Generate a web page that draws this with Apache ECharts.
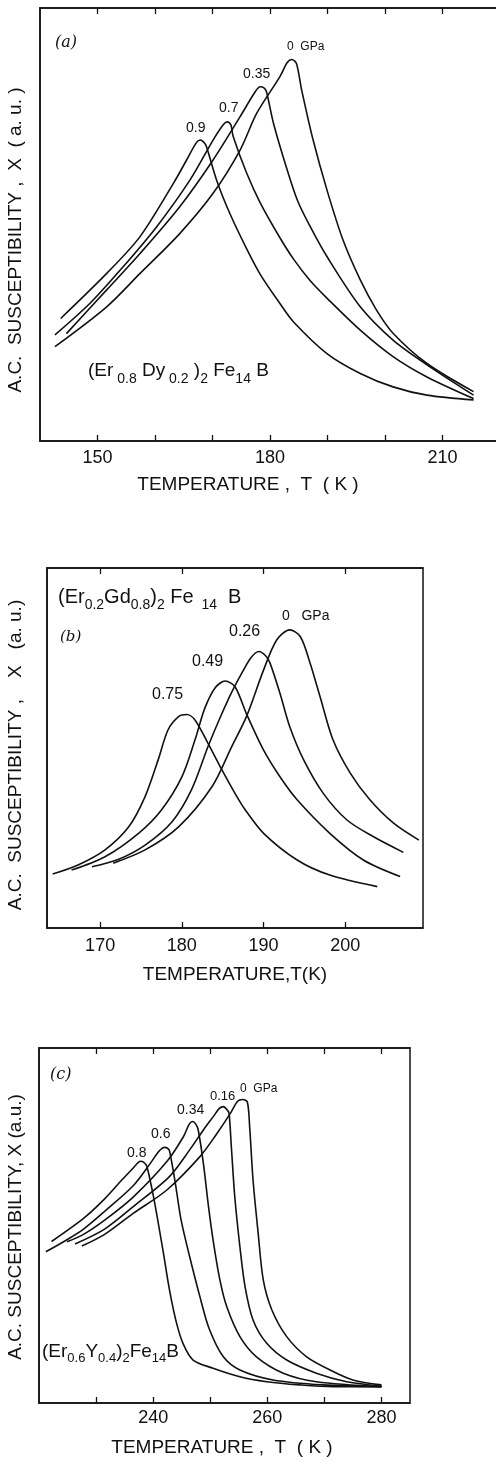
<!DOCTYPE html>
<html>
<head>
<meta charset="utf-8">
<script src="https://cdn.jsdelivr.net/npm/echarts@6.0.0/dist/echarts.min.js"></script>
<style>
    html, body { margin: 0; padding: 0; background: #fff; }
    #chart { width: 496px; height: 1461px; }
</style>
</head>
<body>
<div id="chart"></div>
<script>

// (a) (Er0.8Dy0.2)2Fe14B
var a0 = [[142.6,21.8],[151.6,31.0],[157.4,38.7],[164.3,47.9],[170.1,57.2],[174.8,67.2],[177.7,75.7],[181.7,84.1],[183.0,87.4],[183.8,88.1],[184.6,87.2],[185.5,81.1],[187.5,69.5],[189.9,58.0],[192.7,46.4],[195.7,37.2],[198.5,30.3],[201.4,24.9],[207.3,17.9],[215.4,11.4]];
var a035 = [[144.6,24.8],[151.6,34.9],[157.4,43.3],[164.3,54.1],[170.1,64.9],[174.8,74.9],[177.4,80.6],[178.3,81.8],[179.0,81.5],[179.4,80.6],[180.6,73.4],[182.9,63.0],[184.8,55.5],[187.0,49.5],[189.9,42.6],[195.7,31.0],[201.4,23.3],[207.3,17.6],[215.4,10.6]];
var a07 = [[142.6,24.5],[148.7,31.8],[154.5,40.3],[160.3,49.5],[166.1,60.3],[170.1,69.5],[171.9,73.1],[172.6,73.7],[173.2,73.0],[173.6,70.3],[175.9,62.0],[178.3,55.0],[181.7,47.0],[184.1,42.0],[187.0,37.0],[189.9,33.0],[195.7,25.6],[201.4,19.5],[207.3,14.8],[215.4,9.8]];
var a09 = [[143.6,28.3],[151.6,38.7],[157.4,47.2],[163.2,59.5],[165.5,64.9],[167.2,68.9],[167.9,69.5],[168.6,68.8],[169.0,67.8],[170.7,60.3],[173.0,52.6],[175.9,44.5],[178.3,38.5],[181.7,31.8],[184.1,27.5],[189.9,20.2],[195.7,15.6],[201.4,12.5],[207.3,10.6],[215.4,9.5]];

// (b) (Er0.2Gd0.8)2Fe14B
var b0 = [[171.6,18.0],[175.5,21.7],[179.6,28.1],[183.7,39.3],[186.1,50.4],[187.9,58.7],[190.0,71.7],[191.6,80.0],[193.2,82.8],[194.5,80.9],[195.7,73.5],[196.9,64.3],[198.5,52.2],[200.6,43.0],[203.0,35.6],[205.9,29.1],[209.0,24.4]];
var b026 = [[169.0,17.0],[172.2,19.0],[175.5,23.0],[178.8,29.5],[181.2,38.5],[183.2,50.4],[184.5,57.5],[186.1,65.5],[187.5,71.5],[188.5,75.2],[189.4,76.8],[190.3,75.5],[190.8,73.5],[192.0,65.2],[193.2,55.9],[194.9,46.7],[197.3,37.4],[200.2,30.0],[203.4,25.4],[207.1,21.0]];
var b049 = [[166.5,16.1],[170.6,19.8],[174.7,26.3],[177.5,32.8],[180.0,42.0],[181.6,52.2],[182.8,61.0],[184.1,66.8],[185.3,68.6],[186.5,67.0],[187.9,59.5],[190.0,49.4],[192.0,42.0],[194.1,35.6],[198.1,26.3],[202.2,18.9],[206.7,14.3]];
var b075 = [[164.2,15.0],[167.3,17.5],[170.6,21.7],[173.5,28.1],[175.5,36.5],[177.1,46.7],[178.3,55.0],[179.6,58.7],[180.6,59.3],[181.6,57.8],[183.2,51.3],[184.9,43.9],[186.5,37.4],[187.7,33.0],[190.0,26.3],[194.1,18.9],[198.1,14.7],[203.9,11.5]];

// (c) (Er0.6Y0.4)2Fe14B
var c0 = [[227.5,44.2],[231.5,47.5],[236.5,53.4],[242.4,60.0],[248.2,69.4],[251.0,75.5],[253.5,81.5],[254.8,85.0],[255.7,85.5],[256.5,84.8],[256.9,78.0],[257.5,62.8],[258.4,47.8],[259.3,34.6],[260.8,26.2],[263.4,18.7],[266.9,13.0],[271.0,9.3],[275.0,6.5],[280.0,5.1]];
var c016 = [[226.3,44.8],[231.5,49.0],[236.5,55.3],[242.8,63.7],[246.4,71.3],[248.8,76.9],[250.5,80.6],[251.6,83.0],[252.3,83.5],[253.0,82.5],[253.3,81.6],[253.7,72.2],[254.3,58.1],[255.2,44.0],[256.1,32.8],[257.5,23.4],[259.9,16.8],[263.4,12.1],[268.6,8.4],[273.9,6.0],[280.0,4.8]];
var c034 = [[224.9,45.4],[227.8,47.5],[231.5,51.5],[236.5,58.0],[242.4,68.0],[245.3,75.0],[246.3,78.5],[246.9,79.3],[247.5,78.5],[247.9,76.9],[248.8,67.5],[249.7,55.3],[250.5,45.9],[251.7,34.6],[252.9,27.1],[255.2,18.7],[258.1,13.0],[262.8,8.4],[268.6,6.0],[280.0,4.6]];
var c06 = [[221.2,42.6],[224.9,46.0],[227.8,49.0],[231.5,54.0],[236.5,61.2],[239.5,67.5],[240.8,70.5],[241.6,71.8],[242.1,72.0],[242.7,71.5],[242.9,70.8],[243.8,62.8],[244.9,51.5],[246.4,41.2],[248.2,29.9],[249.8,21.0],[252.3,13.0],[255.2,9.3],[261.0,6.5],[269.8,5.1],[280.0,4.6]];
var c08 = [[222.2,45.5],[227.8,52.0],[231.5,57.5],[234.5,62.8],[236.5,66.2],[237.4,67.8],[237.9,68.1],[238.5,67.6],[238.9,66.6],[239.7,61.0],[240.6,53.4],[241.8,42.2],[242.9,31.5],[244.1,22.5],[245.3,16.5],[247.0,12.1],[250.5,9.8],[255.2,7.4],[259.9,6.0],[265.7,5.1],[271.5,4.6],[280.0,4.6]];

// tick marks and tick labels
var aTicks = [150, 160, 170, 180, 190, 200, 210];
var aLabels = [150, 180, 210];
var bTicks = [170, 180, 190, 200];
var bLabels = [170, 180, 190, 200];
var cTicks = [230, 240, 250, 260, 270, 280];
var cLabels = [240, 260, 280];

var FONT = 'Liberation Sans';
var INK = '#111';

function bottomAxis(grid, min, max, ticks, labels, margin) {
    return {
        type: 'value', gridIndex: grid, min: min, max: max, position: 'bottom',
        axisLine: { show: true, onZero: false, lineStyle: { color: INK, width: 1.5 } },
        axisTick: { show: true, inside: true, length: 6, customValues: ticks, lineStyle: { color: INK, width: 1.3 } },
        axisLabel: { show: true, customValues: labels, margin: margin, color: INK, fontSize: 18, fontFamily: FONT },
        splitLine: { show: false }
    };
}

function topAxis(grid, min, max, ticks) {
    return {
        type: 'value', gridIndex: grid, min: min, max: max, position: 'top',
        axisLine: { show: true, onZero: false, lineStyle: { color: INK, width: 1.5 } },
        axisTick: { show: true, inside: true, length: 6, customValues: ticks, lineStyle: { color: INK, width: 1.3 } },
        axisLabel: { show: false },
        splitLine: { show: false }
    };
}

function leftAxis(grid) {
    return {
        type: 'value', gridIndex: grid, min: 0, max: 100,
        axisLine: { show: true, lineStyle: { color: INK, width: 1.5 } },
        axisTick: { show: false }, axisLabel: { show: false }, splitLine: { show: false }
    };
}

function curve(data, axis) {
    return {
        type: 'line', data: data, xAxisIndex: axis, yAxisIndex: axis,
        smooth: 0.3, showSymbol: false, silent: true,
        lineStyle: { color: INK, width: 1.6 }
    };
}

function txt(x, y, text, size, extra) {
    var st = {
        text: text, fontSize: size, fontFamily: FONT, fill: INK,
        textAlign: 'left', textVerticalAlign: 'middle', align: 'left', verticalAlign: 'middle'
    };
    for (var k in extra) st[k] = extra[k];
    return { type: 'text', x: x, y: y, style: st };
}

function yTitle(x, y, text) {
    return {
        type: 'text', x: x, y: y, rotation: Math.PI / 2,
        style: { text: text, fontSize: 19, fontFamily: FONT, fill: INK,
            textAlign: 'center', textVerticalAlign: 'middle', align: 'center', verticalAlign: 'middle' }
    };
}

function xTitle(x, y, text) {
    return txt(x, y, text, 19, { textAlign: 'center', align: 'center' });
}

function chem(x, y, text, main, sub, drop) {
    return txt(x, y, text, main, { rich: {
        m: { fontSize: main, fontFamily: FONT, color: INK },
        s: { fontSize: sub, fontFamily: FONT, color: INK, padding: [drop, 0, 0, 0] }
    } });
}

var italic = { fontStyle: 'italic', fontFamily: 'DejaVu Serif' };

var chart = echarts.init(document.getElementById('chart'), null, { renderer: 'canvas' });

chart.setOption({
    animation: false,
    backgroundColor: '#fff',
    grid: [
        { left: 40, top: 8, width: 460, height: 433, show: true, borderColor: INK, borderWidth: 1.5, outerBoundsMode: 'none' },
        { left: 47, top: 568, width: 376, height: 360, show: true, borderColor: INK, borderWidth: 1.5, outerBoundsMode: 'none' },
        { left: 39, top: 1048, width: 371, height: 355, show: true, borderColor: INK, borderWidth: 1.5, outerBoundsMode: 'none' }
    ],
    xAxis: [
        bottomAxis(0, 140, 220, aTicks, aLabels, 8),
        bottomAxis(1, 163.5, 209.5, bTicks, bLabels, 9),
        bottomAxis(2, 220, 285, cTicks, cLabels, 6),
        topAxis(0, 140, 220, aTicks),
        topAxis(1, 163.5, 209.5, bTicks),
        topAxis(2, 220, 285, cTicks)
    ],
    yAxis: [leftAxis(0), leftAxis(1), leftAxis(2)],
    series: [
        curve(a0, 0), curve(a035, 0), curve(a07, 0), curve(a09, 0),
        curve(b0, 1), curve(b026, 1), curve(b049, 1), curve(b075, 1),
        curve(c0, 2), curve(c016, 2), curve(c034, 2), curve(c06, 2), curve(c08, 2)
    ],
    graphic: [
        // panel (a)
        yTitle(16, 240, 'A.C.  SUSCEPTIBILITY ,  X  ( a. u. )'),
        xTitle(248, 485, 'TEMPERATURE ,  T  ( K )'),
        txt(55, 43, '(a)', 16, italic),
        txt(287, 47, '0  GPa', 12),
        txt(243, 74, '0.35', 14),
        txt(219, 108, '0.7', 14),
        txt(186, 128, '0.9', 14),
        chem(88, 371, '{m|(Er}{s| 0.8} {m|Dy}{s| 0.2}{m| )}{s|2} {m|Fe}{s|14} {m|B}', 19, 14, 16),
        // panel (b)
        yTitle(16, 755, 'A.C.  SUSCEPTIBILITY ,    X   (a. u.)'),
        xTitle(235, 975, 'TEMPERATURE,T(K)'),
        txt(60, 637, '(b)', 15, italic),
        txt(282, 616, '0   GPa', 14),
        txt(229, 632, '0.26', 16),
        txt(192, 662, '0.49', 16),
        txt(152, 695, '0.75', 16),
        chem(58, 597, '{m|(Er}{s|0.2}{m|Gd}{s|0.8}{m|)}{s|2} {m|Fe}{s|  14}  {m|B}', 20, 14, 16),
        // panel (c)
        yTitle(16, 1227, 'A.C. SUSCEPTIBILITY, X (a.u.)'),
        xTitle(222, 1448, 'TEMPERATURE ,  T  ( K )'),
        txt(50, 1075, '(c)', 16, italic),
        txt(240, 1089, '0  GPa', 12),
        txt(210, 1096, '0.16', 13),
        txt(177, 1110, '0.34', 14),
        txt(151, 1134, '0.6', 14),
        txt(127, 1153, '0.8', 14),
        chem(42, 1352, '{m|(Er}{s|0.6}{m|Y}{s|0.4}{m|)}{s|2}{m|Fe}{s|14}{m|B}', 19, 13, 13)
    ]
});
</script>
</body>
</html>
